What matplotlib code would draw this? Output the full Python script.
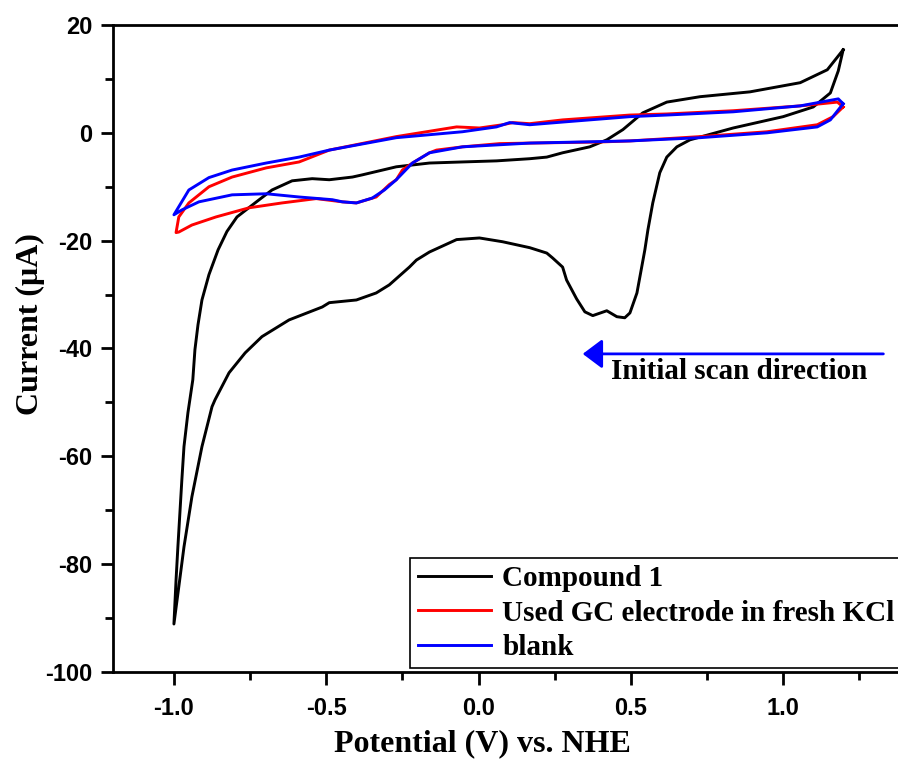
import matplotlib
matplotlib.use("Agg")
import matplotlib.pyplot as plt
from matplotlib.ticker import MultipleLocator

# ---- data ----
# Compound 1: cathodic scan 1.2 -> -1.0, then anodic scan -1.0 -> 1.2
c1_x = [1.197, 1.181, 1.155, 1.099, 1.000, 0.836, 0.694, 0.651, 0.618, 0.595, 0.572, 0.556,
        0.546, 0.520, 0.497, 0.480, 0.454, 0.421, 0.375, 0.349, 0.322, 0.289, 0.276, 0.243,
        0.224, 0.168, 0.079, 0.003, -0.072, -0.161, -0.204, -0.227, -0.293, -0.336, -0.401,
        -0.490, -0.513, -0.622, -0.711, -0.766, -0.819, -0.865, -0.875, -0.908, -0.941,
        -0.967, -0.984, -1.000,
        -0.993, -0.987, -0.974, -0.967, -0.954, -0.938, -0.931, -0.921, -0.908, -0.885,
        -0.855, -0.826, -0.793, -0.720,
        -0.678, -0.612, -0.546, -0.490, -0.414, -0.382, -0.270, -0.161, -0.053, 0.059,
        0.168, 0.224, 0.276, 0.365, 0.421, 0.474, 0.539, 0.618, 0.727, 0.891, 1.056,
        1.145, 1.197]
c1_y = [15.4, 11.5, 7.4, 4.8, 3.0, 0.9, -1.3, -2.6, -4.5, -7.4, -13.0, -18.0,
        -21.7, -29.7, -33.4, -34.3, -34.1, -33.0, -33.9, -33.2, -30.8, -27.3, -24.9, -23.2,
        -22.3, -21.3, -20.2, -19.5, -19.8, -22.1, -23.6, -24.9, -28.2, -29.7, -31.0,
        -31.5, -32.3, -34.7, -37.8, -40.8, -44.5, -49.5, -50.8, -58.2, -67.5,
        -76.8, -84.2, -91.1,
        -82.9, -76.8, -64.4, -58.2, -51.9, -45.8, -40.2, -35.6, -31.0, -26.3,
        -21.7, -18.3, -15.6, -12.4,
        -10.6, -8.9, -8.5, -8.7, -8.2, -7.8, -6.3, -5.6, -5.4, -5.2,
        -4.8, -4.5, -3.7, -2.6, -1.3, 0.6, 3.7, 5.7, 6.7, 7.6, 9.3,
        11.7, 15.4]

# Used GC electrode in fresh KCl
gc_x = [1.197, 1.164, 1.112, 0.947, 0.727, 0.497, 0.398, 0.168, 0.069, -0.053, -0.138,
        -0.161, -0.217, -0.250, -0.270, -0.293, -0.336, -0.401, -0.447, -0.533, -0.645,
        -0.753, -0.862, -0.941, -0.984, -0.993,
        -0.984, -0.951, -0.885, -0.809, -0.697, -0.589, -0.490, -0.270, -0.072, 0.003,
        0.079, 0.112, 0.168, 0.276, 0.497, 0.618, 0.836, 1.056, 1.178, 1.197]
gc_y = [4.8, 3.0, 1.5, 0.2, -0.7, -1.5, -1.7, -1.9, -2.0, -2.6, -3.2,
        -3.7, -5.6, -6.9, -8.7, -9.6, -11.9, -13.0, -12.8, -12.2, -13.0,
        -13.9, -15.6, -17.1, -18.4, -18.5,
        -15.6, -13.0, -10.0, -8.2, -6.5, -5.4, -3.2, -0.7, 1.1, 0.9,
        1.5, 1.9, 1.7, 2.4, 3.3, 3.5, 4.1, 5.0, 5.7, 4.8]

# blank
bl_x = [1.197, 1.155, 1.112, 0.947, 0.727, 0.497, 0.168, -0.053, -0.161, -0.217, -0.270,
        -0.309, -0.349, -0.401, -0.447, -0.480, -0.589, -0.697, -0.809, -0.918, -0.974,
        -1.000,
        -0.984, -0.951, -0.885, -0.809, -0.697, -0.589, -0.490, -0.270, -0.053, 0.059,
        0.102, 0.168, 0.276, 0.497, 0.618, 0.836, 1.056, 1.181, 1.197]
bl_y = [5.4, 2.4, 1.1, 0.0, -0.9, -1.5, -1.9, -2.6, -3.7, -5.6, -8.7,
        -10.6, -12.1, -13.0, -12.8, -12.4, -11.9, -11.3, -11.5, -12.8, -14.3,
        -15.2,
        -13.7, -10.6, -8.3, -6.9, -5.6, -4.5, -3.2, -0.9, 0.2, 1.1,
        1.9, 1.5, 2.0, 3.0, 3.3, 3.9, 5.0, 6.3, 5.4]

labels = ["Compound 1", "Used GC electrode in fresh KCl", "blank"]
colors = ["black", "#ff0000", "#0000ff"]
x_ticks = [-1.0, -0.5, 0.0, 0.5, 1.0]
y_ticks = [20, 0, -20, -40, -60, -80, -100]
arrow_x = [1.329, 0.342]
arrow_y = -41
note_text = "Initial scan direction"
note_xy = (0.855, -44.3)

# ---- figure ----
fig = plt.figure(figsize=(8.98, 7.59), dpi=100)
ax = fig.add_axes([113 / 898, 1 - 672 / 759, 792 / 898, 647 / 759])

serif = "Liberation Serif"
sans = "Liberation Sans"

for xs, ys, lab, col in zip([c1_x, gc_x, bl_x], [c1_y, gc_y, bl_y], labels, colors):
    ax.plot(xs, ys, color=col, lw=2.1, label=lab, solid_joinstyle="round")

ax.set_xlim(-1.2, 1.4)
ax.set_ylim(-100, 20)
ax.set_xticks(x_ticks)
ax.set_yticks(y_ticks)
ax.xaxis.set_minor_locator(MultipleLocator(0.25))
ax.yaxis.set_minor_locator(MultipleLocator(10))
ax.set_xticklabels([f"{v:.1f}" for v in x_ticks])
ax.set_yticklabels([str(v) for v in y_ticks])

for s in ax.spines.values():
    s.set_linewidth(2.0)
ax.tick_params(which="major", direction="out", length=9, width=2, top=False, right=False)
ax.tick_params(which="minor", direction="out", length=5.5, width=2, top=False, right=False)
ax.tick_params(axis="x", which="major", pad=9)
ax.tick_params(axis="y", which="major", pad=6)
for t in ax.get_xticklabels() + ax.get_yticklabels():
    t.set_fontfamily(sans)
    t.set_fontweight("bold")
    t.set_fontsize(17)

ax.set_xlabel("Potential (V) vs. NHE", fontfamily=serif, fontweight="bold", fontsize=23)
ax.xaxis.set_label_coords(0.466, -0.089)
ax.set_ylabel("Current (\u03bcA)", fontfamily=serif, fontweight="bold", fontsize=23)
ax.yaxis.set_label_coords(-0.086, 0.538)

leg = ax.legend(loc="lower right", bbox_to_anchor=(0.996, 0.006), borderaxespad=0,
                prop={"family": serif, "weight": "bold", "size": 21},
                frameon=True, fancybox=False, edgecolor="black", framealpha=1,
                handlelength=2.5, handletextpad=0.4, labelspacing=0.25, borderpad=0.25)
leg.get_frame().set_linewidth(1.2)
for h in leg.get_lines():
    h.set_linewidth(2.1)

ax.annotate("", xy=(arrow_x[1], arrow_y), xytext=(arrow_x[0], arrow_y),
            arrowprops=dict(arrowstyle="-|>,head_length=0.6,head_width=0.45",
                            color="#0000ff", lw=2.0, shrinkA=0, shrinkB=0,
                            mutation_scale=20))
ax.text(note_xy[0], note_xy[1], note_text, ha="center", va="center",
        fontfamily=serif, fontweight="bold", fontsize=21)

fig.savefig("out.png", dpi=100)
